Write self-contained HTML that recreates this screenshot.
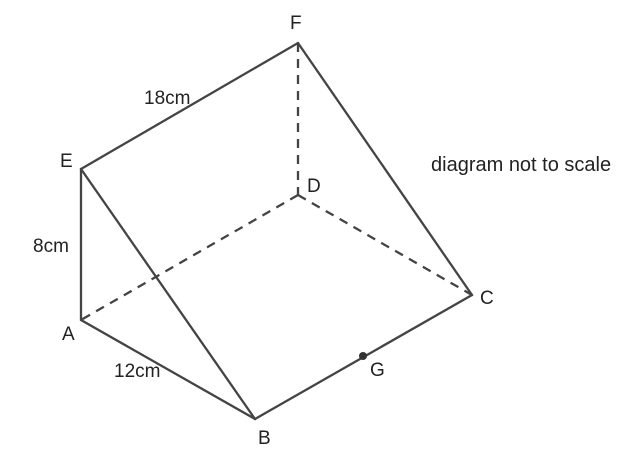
<!DOCTYPE html>
<html><head><style>
html,body{margin:0;padding:0;background:#fff;}
svg text{font-family:"Liberation Sans",Arial,sans-serif;fill:#222;}
</style></head><body>
<svg width="641" height="457" viewBox="0 0 641 457" xmlns="http://www.w3.org/2000/svg">
<g stroke="#444" stroke-width="2.3" fill="none" stroke-linecap="round">
<line x1="298" y1="43" x2="81" y2="169"/>
<line x1="298" y1="43" x2="472" y2="295"/>
<line x1="81" y1="169" x2="81" y2="320"/>
<line x1="81" y1="169" x2="255" y2="419"/>
<line x1="81" y1="320" x2="255" y2="419"/>
<line x1="255" y1="419" x2="472" y2="295"/>
</g>
<g stroke="#444" stroke-width="2.3" fill="none" stroke-dasharray="9,7">
<line x1="298" y1="43" x2="298" y2="195"/>
<line x1="298" y1="195" x2="81" y2="320"/>
<line x1="298" y1="195" x2="472" y2="295"/>
</g>
<circle cx="363" cy="356" r="4" fill="#333"/>
<g font-size="19">
<text x="290" y="29">F</text>
<text x="60" y="167">E</text>
<text x="307" y="192">D</text>
<text x="33" y="252">8cm</text>
<text x="62" y="340">A</text>
<text x="114" y="377">12cm</text>
<text x="258" y="444">B</text>
<text x="370" y="376">G</text>
<text x="480" y="304">C</text>
<text x="144" y="104">18cm</text>
<text x="431" y="171" font-size="20">diagram not to scale</text>
</g>
</svg>
</body></html>
